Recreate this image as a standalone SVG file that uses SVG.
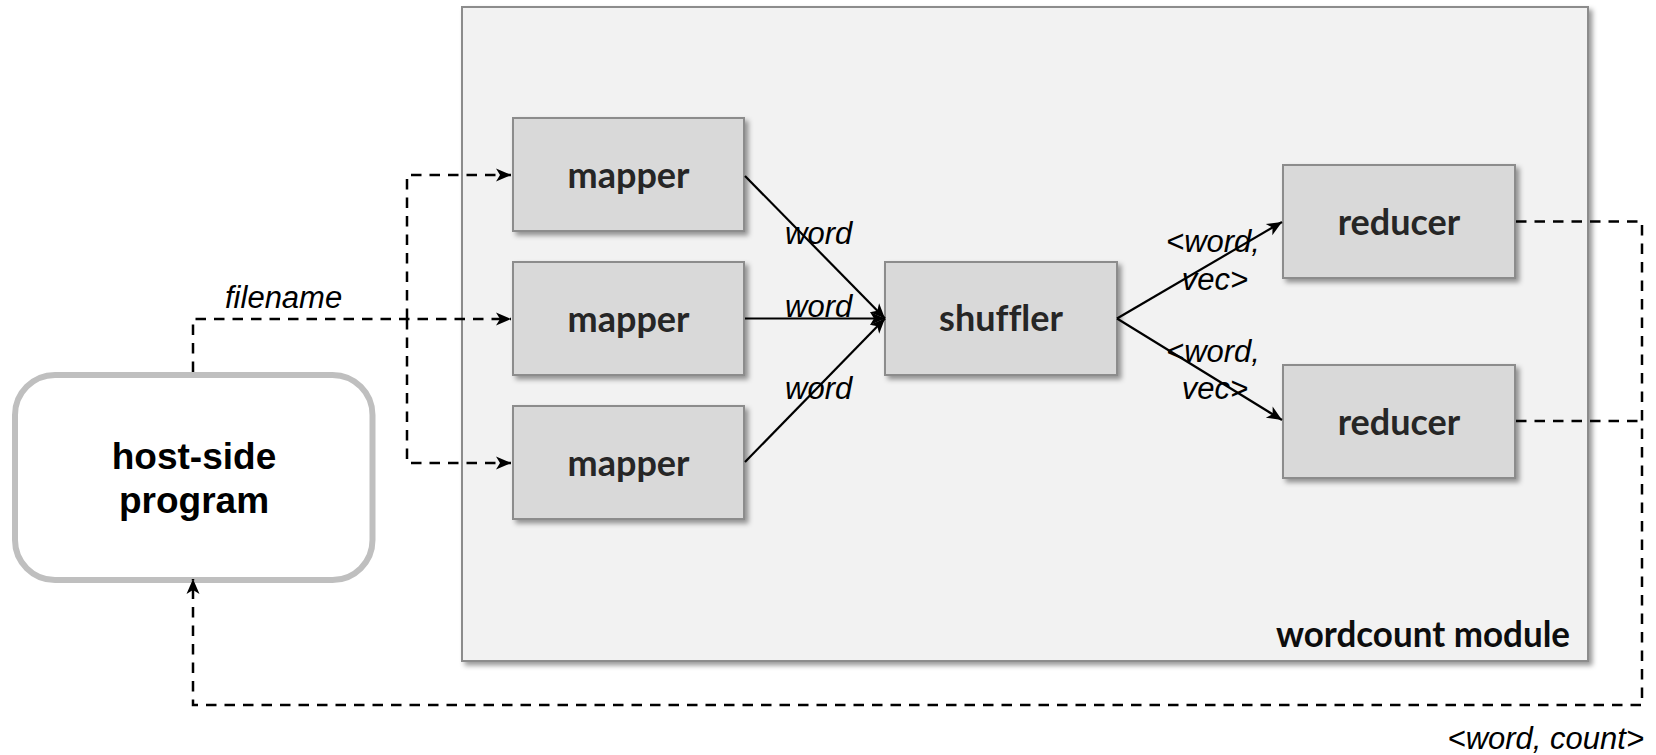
<svg xmlns="http://www.w3.org/2000/svg" width="1656" height="755" viewBox="0 0 1656 755">
  <defs>
    <filter id="shadow" x="-10%" y="-10%" width="130%" height="130%">
      <feDropShadow dx="3.5" dy="3.5" stdDeviation="2.5" flood-color="#000" flood-opacity="0.4"/>
    </filter>
    <marker id="arrow" viewBox="-17 -8 18 16" refX="0" refY="0" markerWidth="18" markerHeight="16" markerUnits="userSpaceOnUse" orient="auto">
      <path d="M0,0 L-15,-6.5 L-11,0 L-15,6.5 Z" fill="#000"/>
    </marker>
  </defs>
  <style>
    .module { fill: #f2f2f2; stroke: #8c8c8c; stroke-width: 2; }
    .box { fill: #d9d9d9; stroke: #8c8c8c; stroke-width: 2; }
    .host { fill: #ffffff; stroke: #bfbfbf; stroke-width: 6; }
    .boxlabel { font-family: Lato, "Open Sans", sans-serif; font-weight: bold; font-size: 36px; fill: #262626; text-anchor: middle; font-variant-ligatures: none; }
    .modlabel { font-family: Lato, "Open Sans", sans-serif; font-weight: bold; font-size: 36px; fill: #0d0d0d; font-variant-ligatures: none; }
    .hostlabel { font-family: "Liberation Sans", Arial, sans-serif; font-weight: bold; font-size: 37px; fill: #000; text-anchor: middle; }
    .edgelabel { font-family: "Liberation Sans", Arial, sans-serif; font-style: italic; font-size: 31px; fill: #000; }
    .flow { fill: none; stroke: #000; stroke-width: 2.2; }
    .ctrl { fill: none; stroke: #000; stroke-width: 2.5; stroke-dasharray: 10.5 8; }
  </style>

  <!-- enclosing module -->
  <g id="wordcount-module">
    <rect class="module" x="462" y="7" width="1126" height="654" filter="url(#shadow)"/>
    <text class="modlabel" x="1276" y="647" textLength="294" lengthAdjust="spacingAndGlyphs">wordcount module</text>
  </g>

  <!-- host program -->
  <g id="host-program">
    <rect class="host" x="15" y="375" width="357.5" height="205" rx="40" ry="40"/>
    <text class="hostlabel" x="194" y="469">host-side</text>
    <text class="hostlabel" x="194" y="513">program</text>
  </g>

  <g id="mapper-1">
    <rect class="box" x="513" y="118" width="231" height="113" filter="url(#shadow)"/>
    <text class="boxlabel" x="628.5" y="188">mapper</text>
  </g>
  <g id="mapper-2">
    <rect class="box" x="513" y="262" width="231" height="113" filter="url(#shadow)"/>
    <text class="boxlabel" x="628.5" y="332">mapper</text>
  </g>
  <g id="mapper-3">
    <rect class="box" x="513" y="406" width="231" height="113" filter="url(#shadow)"/>
    <text class="boxlabel" x="628.5" y="476">mapper</text>
  </g>

  <g id="shuffler">
    <rect class="box" x="885" y="262" width="232" height="113" filter="url(#shadow)"/>
    <text class="boxlabel" x="1001" y="331">shuffler</text>
  </g>

  <g id="reducer-1">
    <rect class="box" x="1283" y="165" width="232" height="113" filter="url(#shadow)"/>
    <text class="boxlabel" x="1399" y="235">reducer</text>
  </g>
  <g id="reducer-2">
    <rect class="box" x="1283" y="365" width="232" height="113" filter="url(#shadow)"/>
    <text class="boxlabel" x="1399" y="435">reducer</text>
  </g>

  <!-- connectors -->
  <g id="connectors">
    <!-- filename distribution -->
    <path class="ctrl" d="M193,372 V319 H511" marker-end="url(#arrow)"/>
    <path class="ctrl" d="M407,319 V175 H511" marker-end="url(#arrow)"/>
    <path class="ctrl" d="M407,319 V463 H511" marker-end="url(#arrow)"/>

    <!-- mapper to shuffler -->
    <path class="flow" d="M745,176 L885,318.5" marker-end="url(#arrow)"/>
    <path class="flow" d="M745,318.5 L885,318.5" marker-end="url(#arrow)"/>
    <path class="flow" d="M745,462 L885,318.5" marker-end="url(#arrow)"/>

    <!-- shuffler to reducers -->
    <path class="flow" d="M1117,318.5 L1282,222" marker-end="url(#arrow)"/>
    <path class="flow" d="M1117,318.5 L1282,420" marker-end="url(#arrow)"/>

    <!-- results back to host -->
    <path class="ctrl" d="M1516,221.5 H1642 V705 H193 V579" marker-end="url(#arrow)"/>
    <path class="ctrl" d="M1516,421 H1642"/>

    <!-- connector labels -->
    <text class="edgelabel" x="225" y="308">filename</text>
    <text class="edgelabel" x="785" y="243.5">word</text>
    <text class="edgelabel" x="785" y="316.5">word</text>
    <text class="edgelabel" x="785" y="398.5">word</text>
    <text class="edgelabel" x="1213" y="252" text-anchor="middle">&lt;word, </text>
    <text class="edgelabel" x="1215" y="289.5" text-anchor="middle">vec&gt;</text>
    <text class="edgelabel" x="1213" y="361.5" text-anchor="middle">&lt;word, </text>
    <text class="edgelabel" x="1215" y="399" text-anchor="middle">vec&gt;</text>
    <text class="edgelabel" x="1644" y="749" text-anchor="end">&lt;word, count&gt;</text>
  </g>
</svg>
